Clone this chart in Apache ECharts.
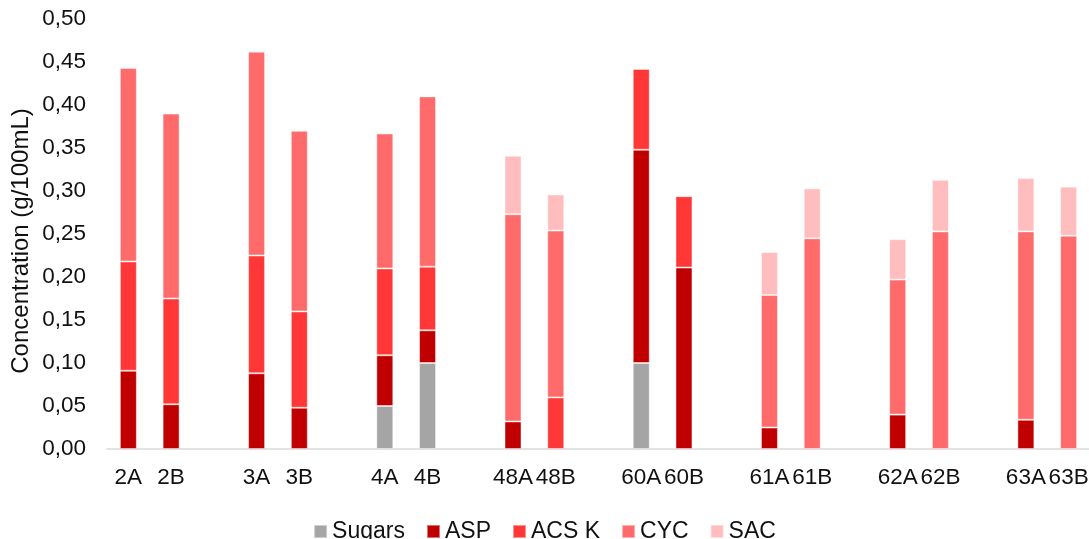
<!DOCTYPE html>
<html>
<head>
<meta charset="utf-8">
<script src="https://cdn.jsdelivr.net/npm/echarts@6/dist/echarts.min.js"></script>
<style>html,body{margin:0;padding:0;background:#fff}#c{width:1089px;height:539px}</style>
</head>
<body>
<div id="c"></div>
<script>
const categories = ['2A','2B','','3A','3B','','4A','4B','','48A','48B','','60A','60B','','61A','61B','','62A','62B','','63A','63B'];
const sugars = [null,null,null,null,null,null,0.050,0.100,null,null,null,null,0.100,null,null,null,null,null,null,null,null,null,null];
const asp    = [0.091,0.052,null,0.088,0.048,null,0.059,0.038,null,0.032,null,null,0.248,0.211,null,0.025,null,null,0.040,null,null,0.034,null];
const acsk   = [0.127,0.123,null,0.137,0.112,null,0.101,0.074,null,null,0.060,null,0.094,0.083,null,null,null,null,null,null,null,null,null];
const cyc    = [0.225,0.215,null,0.237,0.210,null,0.157,0.198,null,0.241,0.194,null,null,null,null,0.154,0.245,null,0.157,0.253,null,0.219,0.248];
const sac    = [null,null,null,null,null,null,null,null,null,0.068,0.042,null,null,null,null,0.050,0.058,null,0.047,0.060,null,0.062,0.057];
const yTicks = {min:0, max:0.5, interval:0.05};

const names = ['Sugars','ASP','ACS K','CYC','SAC'];
const colors = ['#A5A5A5','#C00000','#FF3737','#FF6B6B','#FFBDBD'];
const datas = [sugars, asp, acsk, cyc, sac];
const font = 'Liberation Sans, Arial, sans-serif';
const txt = '#111';

const chart = echarts.init(document.getElementById('c'), null, {renderer:'canvas'});
chart.setOption({
  animation:false,
  textStyle:{fontFamily:font},
  grid:{left:107, right:-1, top:19, bottom:90, containLabel:false, outerBoundsMode:'none'},
  legend:{
    data:names, top:515, left:'center', icon:'rect', itemWidth:13, itemHeight:13, itemGap:21,
    textStyle:{fontFamily:font, fontSize:23, color:txt}
  },
  xAxis:{
    type:'category', data:categories,
    axisLine:{lineStyle:{color:'#D9D9D9', width:1.5}},
    axisTick:{show:false},
    axisLabel:{interval:0, fontFamily:font, fontSize:22.5, color:txt, margin:17}
  },
  yAxis:{
    type:'value', min:yTicks.min, max:yTicks.max, interval:yTicks.interval,
    name:'Concentration (g/100mL)', nameLocation:'middle', nameGap:74, nameRotate:90,
    nameMoveOverlap:false,
    nameTextStyle:{fontFamily:font, fontSize:24, color:txt, padding:[0,14,0,0]},
    axisLine:{show:false}, axisTick:{show:false}, splitLine:{show:false},
    axisLabel:{fontFamily:font, fontSize:22.5, color:txt, margin:21,
      formatter:v => v.toFixed(2).replace('.', ',')}
  },
  series: names.map((n,i)=>({
    name:n, type:'bar', stack:'total', data:datas[i], barWidth:17,
    itemStyle:{color:colors[i], borderColor:'rgba(255,255,255,0.45)', borderWidth:1}
  }))
});
</script>
</body>
</html>
